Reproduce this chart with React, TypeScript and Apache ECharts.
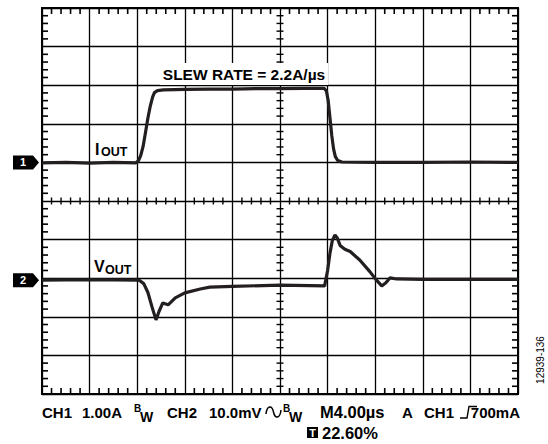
import React, { useEffect, useRef } from "react";
import * as echarts from "echarts";

// Time axis in µs (M 4.00µs/div, 10 divisions), vertical axis in screen divisions (0..10)
const xMin = 0;
const xMax = 40;
const xStep = 4;
const yMin = 0;
const yMax = 10;
const yStep = 1;
const minorPerDiv = 5;

// CH1: I_OUT trace (time µs, divisions)
const iOutTime = [0, 2, 4, 6, 7.9, 8.1, 8.3, 8.5, 8.7, 8.9, 9.1, 9.3, 9.45, 9.7, 10.2, 12, 14, 16, 18, 20, 22, 23.7, 23.9, 24.05, 24.2, 24.35, 24.5, 24.65, 24.85, 25.2, 28, 32, 36, 40];
const iOutDiv = [5.99, 6.0, 5.98, 6.0, 5.99, 6.04, 6.18, 6.42, 6.78, 7.15, 7.46, 7.7, 7.81, 7.86, 7.88, 7.89, 7.9, 7.9, 7.91, 7.91, 7.92, 7.92, 7.85, 7.6, 7.15, 6.7, 6.35, 6.15, 6.05, 6.01, 6.0, 6.0, 6.01, 6.0];

// CH2: V_OUT trace (time µs, divisions)
const vOutTime = [0, 4, 8, 8.2, 8.55, 8.9, 9.25, 9.58, 9.85, 10.15, 10.6, 11.2, 12, 13.3, 14.1, 16, 20, 23.75, 24.0, 24.2, 24.4, 24.62, 24.8, 25.05, 25.45, 25.9, 26.7, 27.55, 28.05, 28.55, 28.9, 29.25, 29.8, 32, 36, 40];
const vOutDiv = [2.95, 2.96, 2.95, 2.94, 2.86, 2.63, 2.25, 1.92, 2.15, 2.36, 2.31, 2.49, 2.62, 2.72, 2.77, 2.79, 2.82, 2.8, 3.2, 3.65, 3.98, 4.12, 4.05, 3.85, 3.75, 3.69, 3.47, 3.17, 2.97, 2.8, 2.88, 3.01, 2.98, 2.97, 2.97, 2.97];

// Channel ground markers (divisions)
const ch1Ground = 6.0;
const ch2Ground = 2.95;

const titleText = "SLEW RATE = 2.2A/µs";
const figId = "12939-136";

const FONT = "'Liberation Sans', Arial, Helvetica, sans-serif";
const INK = "#231f20";

const GRID = { left: 42, top: 8, width: 476, height: 386 };

// graticule minor tick positions (skip the major division lines)
const xMinorTicks: number[] = [];
for (let i = 1; i < ((xMax - xMin) / xStep) * minorPerDiv; i++) {
  if (i % minorPerDiv !== 0) xMinorTicks.push(xMin + (i * xStep) / minorPerDiv);
}
const yMinorTicks: number[] = [];
for (let i = 1; i < ((yMax - yMin) / yStep) * minorPerDiv; i++) {
  if (i % minorPerDiv !== 0) yMinorTicks.push(yMin + (i * yStep) / minorPerDiv);
}

// tick lengths converted from pixels to axis units
const pxPerX = GRID.width / (xMax - xMin);
const pxPerY = GRID.height / (yMax - yMin);
const xMid = (xMin + xMax) / 2;
const yMid = (yMin + yMax) / 2;
const EDGE = 6;

// vertical tick marks (on top/bottom borders and the horizontal centre line)
const vTickEdge: number[][] = [];
const vTickMid: number[][] = [];
xMinorTicks.forEach((v) => {
  vTickEdge.push([v, yMax - EDGE / 2 / pxPerY], [v, yMin + EDGE / 2 / pxPerY]);
  vTickMid.push([v, yMid]);
});
// horizontal tick marks (on left/right borders and the vertical centre line)
const hTickEdge: number[][] = [];
const hTickMid: number[][] = [];
yMinorTicks.forEach((v) => {
  hTickEdge.push([xMin + EDGE / 2 / pxPerX, v], [xMax - EDGE / 2 / pxPerX, v]);
  hTickMid.push([xMid, v]);
});

const tickSeries = (name: string, data: number[][], size: number[]) => ({
  name,
  type: "scatter",
  data,
  symbol: "rect",
  symbolSize: size,
  silent: true,
  clip: false,
  itemStyle: { color: "#000", opacity: 1 },
  z: 4,
});

export default function App() {
  const ref = useRef<HTMLDivElement>(null);
  useEffect(() => {
    if (!ref.current) return;
    const chart = echarts.init(ref.current, undefined, { renderer: "svg" });
    const yPix = (d: number) => GRID.top + GRID.height * (1 - (d - yMin) / (yMax - yMin));
    const marker = (label: string, d: number) => {
      const cy = yPix(d);
      return [
        {
          type: "polygon",
          shape: { points: [[13, cy - 7], [33, cy - 7], [39, cy], [33, cy + 7], [13, cy + 7]] },
          style: { fill: "#000" },
        },
        {
          type: "text",
          x: 23,
          y: cy,
          style: { text: label, fill: "#fff", font: `bold 11px ${FONT}`, textAlign: "center", textVerticalAlign: "middle" },
        },
      ];
    };
    const t = (text: string, x: number, y: number, size: number, align = "left", extra: any = {}) => ({
      type: "text",
      x,
      y,
      z: 10,
      style: { text, fill: "#000", font: `bold ${size}px ${FONT}`, textAlign: align, textVerticalAlign: "middle", ...extra },
    });
    const L1 = 412;
    const L2 = 432.5;
    chart.setOption({
      animation: false,
      backgroundColor: "#fff",
      grid: { ...GRID, containLabel: false, show: true, borderColor: "#000", borderWidth: 2, backgroundColor: "transparent" },
      xAxis: {
        type: "value",
        min: xMin,
        max: xMax,
        interval: xStep,
        axisLine: { show: false },
        axisTick: { show: false },
        axisLabel: { show: false },
        splitLine: { show: true, lineStyle: { color: "#000", width: 1.3 } },
      },
      yAxis: {
        type: "value",
        min: yMin,
        max: yMax,
        interval: yStep,
        axisLine: { show: false },
        axisTick: { show: false },
        axisLabel: { show: false },
        splitLine: { show: true, lineStyle: { color: "#000", width: 1.3 } },
      },
      series: [
        tickSeries("vTickEdge", vTickEdge, [1.6, EDGE]),
        tickSeries("vTickMid", vTickMid, [1.4, 7]),
        tickSeries("hTickEdge", hTickEdge, [EDGE, 1.6]),
        tickSeries("hTickMid", hTickMid, [7, 1.4]),
        {
          name: "IOUT",
          type: "line",
          data: iOutTime.map((x, i) => [x, iOutDiv[i]]),
          showSymbol: false,
          smooth: false,
          lineStyle: { color: INK, width: 3.2 },
          z: 5,
        },
        {
          name: "VOUT",
          type: "line",
          data: vOutTime.map((x, i) => [x, vOutDiv[i]]),
          showSymbol: false,
          smooth: false,
          lineStyle: { color: INK, width: 3.2 },
          z: 5,
        },
      ],
      graphic: [
        ...marker("1", ch1Ground),
        ...marker("2", ch2Ground),
        t(titleText, 244, 74, 15.5, "center", { backgroundColor: "#fff", padding: [3, 3] }),
        t("I", 95, 149, 16),
        t("OUT", 101, 152, 12.5),
        t("V", 94, 266, 16),
        t("OUT", 105, 269.5, 12.5),
        t("CH1", 42, L1, 15),
        t("1.00A", 82, L1, 15),
        t("B", 134, 408.5, 10),
        t("W", 140, 417, 14),
        t("CH2", 167, L1, 15),
        t("10.0mV", 209, L1, 15),
        {
          type: "bezierCurve",
          shape: { x1: 266, y1: 414, cpx1: 267, cpy1: 405, cpx2: 272, cpy2: 405, x2: 273.5, y2: 412 },
          style: { stroke: "#000", lineWidth: 1.5, fill: null },
        },
        {
          type: "bezierCurve",
          shape: { x1: 273.5, y1: 412, cpx1: 275, cpy1: 419, cpx2: 280, cpy2: 419, x2: 281, y2: 410 },
          style: { stroke: "#000", lineWidth: 1.5, fill: null },
        },
        t("B", 283, 408.5, 10),
        t("W", 289, 417, 14),
        t("M4.00µs", 320, L1, 16.5),
        t("A", 402, L1, 15),
        t("CH1", 424, L1, 15),
        {
          type: "polyline",
          shape: { points: [[460, 418], [467, 418], [469, 406.5], [477, 406.5]] },
          style: { stroke: "#000", lineWidth: 1.4, fill: null },
        },
        t("700mA", 520, L1, 15, "right"),
        { type: "rect", shape: { x: 307, y: 427, width: 11, height: 11 }, style: { fill: "#000" } },
        t("T", 312.5, L2, 11, "center", { fill: "#fff" }),
        t("22.60%", 322, L2, 16.5),
        {
          type: "text",
          x: 540,
          y: 360,
          rotation: Math.PI / 2,
          style: { text: figId, fill: "#000", font: `10px ${FONT}`, textAlign: "center", textVerticalAlign: "middle" },
        },
      ],
    });
    return () => chart.dispose();
  }, []);
  return <div ref={ref} style={{ position: "fixed", left: 0, top: 0, width: 548, height: 444 }} />;
}
